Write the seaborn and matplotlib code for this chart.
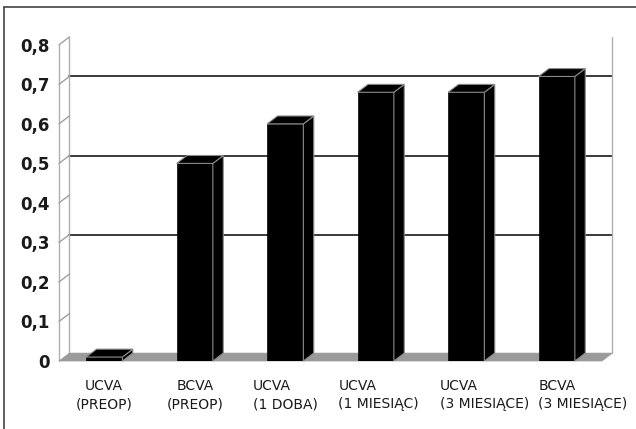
import matplotlib
matplotlib.use("Agg")
import matplotlib.pyplot as plt
from matplotlib.patches import Polygon
from matplotlib.lines import Line2D
from matplotlib.transforms import ScaledTranslation
import seaborn as sns
import pandas as pd

categories = ["UCVA\n(PREOP)", "BCVA\n(PREOP)", "UCVA\n(1 DOBA)",
              "UCVA\n(1 MIESIĄC)", "UCVA\n(3 MIESIĄCE)", "BCVA\n(3 MIESIĄCE)"]
values = [0.01, 0.50, 0.60, 0.68, 0.68, 0.72]
yticks = [0, 0.1, 0.2, 0.3, 0.4, 0.5, 0.6, 0.7, 0.8]
ytick_labels = ["0", "0,1", "0,2", "0,3", "0,4", "0,5", "0,6", "0,7", "0,8"]
grid_levels = [0.3, 0.5, 0.7]

sns.set_style("white")
plt.rcParams["font.family"] = ["DejaVu Sans"]

W, H = 636, 429
fig = plt.figure(figsize=(W / 100, H / 100), dpi=100)
ax = fig.add_axes([59 / W, 1 - 361 / H, (602 - 59) / W, (361 - 33) / H])

df = pd.DataFrame({"cat": categories, "val": values})

# depth of the pseudo-3D box, in data units
dx, dy = 0.115, 0.02
xl, xr = -0.5, 5.5
top = 0.8

# back wall grid lines
for g in grid_levels:
    ax.add_line(Line2D([xl + dx, xr + dx], [g + dy, g + dy], color="#3a3a3a",
                       lw=1.4, clip_on=False, zorder=1))
# back wall right edge
ax.add_line(Line2D([xr + dx, xr + dx], [dy, top + dy], color="#b0b0b0",
                   lw=1.0, clip_on=False, zorder=1))
# left wall
ax.add_line(Line2D([xl, xl], [0, top], color="#b0b0b0", lw=1.0, clip_on=False, zorder=1))
ax.add_line(Line2D([xl + dx, xl + dx], [dy, top + dy], color="#b0b0b0", lw=1.0,
                   clip_on=False, zorder=1))
for t in yticks[1:]:
    ax.add_line(Line2D([xl, xl + dx], [t, t + dy], color="#a0a0a0", lw=1.0,
                       clip_on=False, zorder=1))
# floor
ax.add_patch(Polygon([(xl, 0), (xr, 0), (xr + dx, dy), (xl + dx, dy)],
                     closed=True, facecolor="#9a9a9a", edgecolor="#9a9a9a",
                     lw=0.5, clip_on=False, zorder=1))

sns.barplot(data=df, x="cat", y="val", color="black", width=0.4,
            saturation=1, ax=ax, zorder=3)

for p in list(ax.patches):
    if p.get_facecolor()[:3] != (0.0, 0.0, 0.0):
        continue
    x0 = p.get_x()
    w = p.get_width()
    h = p.get_height()
    x1 = x0 + w
    p.set_edgecolor("black")
    p.set_linewidth(0.5)
    side = Polygon([(x1, 0), (x1 + dx, dy), (x1 + dx, h + dy), (x1, h)], closed=True,
                   facecolor="black", edgecolor="#8a8a8a", lw=0.8, zorder=3,
                   clip_on=False)
    topf = Polygon([(x0, h), (x1, h), (x1 + dx, h + dy), (x0 + dx, h + dy)],
                   closed=True, facecolor="black", edgecolor="#8a8a8a", lw=0.8,
                   zorder=3, clip_on=False)
    ax.add_patch(side)
    ax.add_patch(topf)

ax.set_xlim(xl, xr)
ax.set_ylim(0, 0.83)
ax.set_yticks(yticks)
ax.set_yticklabels(ytick_labels, fontsize=12, fontweight="bold", color="#1a1a1a")
ax.set_xticks(range(len(categories)))
ax.set_xticklabels(categories, fontsize=10, color="#1a1a1a", linespacing=1.4)
ax.tick_params(axis="y", length=0, pad=7)
ax.tick_params(axis="x", length=0, pad=13)

# the longer two-line labels sit left-aligned and nudged right so they don't collide
label_shift_px = [0, 0, 0, 3, 18, 26]
label_align = ["center", "center", "left", "left", "left", "left"]
for lab, s, al in zip(ax.get_xticklabels(), label_shift_px, label_align):
    lab.set_multialignment(al)
    lab.set_transform(lab.get_transform() + ScaledTranslation(s / 100, 0, fig.dpi_scale_trans))

ax.set_xlabel("")
ax.set_ylabel("")
for s in ax.spines.values():
    s.set_visible(False)
ax.patch.set_alpha(0)

# outer frame
fig.add_artist(Line2D([4 / W, 1], [1 - 7 / H, 1 - 7 / H], color="#444444", lw=1.2,
                      transform=fig.transFigure))
fig.add_artist(Line2D([4 / W, 4 / W], [0, 1 - 7 / H], color="#444444", lw=1.2,
                      transform=fig.transFigure))

fig.savefig("out.png", dpi=100)
